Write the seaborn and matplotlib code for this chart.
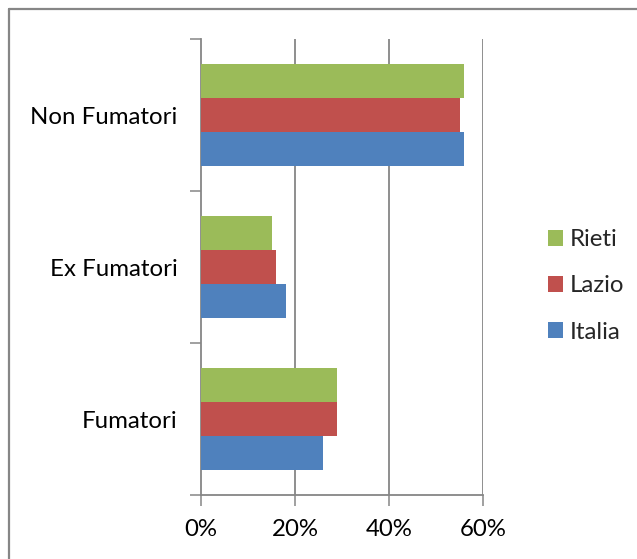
import matplotlib
matplotlib.use("Agg")
import matplotlib.pyplot as plt
from matplotlib.patches import Patch
from matplotlib.lines import Line2D
import seaborn as sns
import pandas as pd

categories = ["Non Fumatori", "Ex Fumatori", "Fumatori"]
series = ["Rieti", "Lazio", "Italia"]
rieti = [56, 15, 29]
lazio = [55, 16, 29]
italia = [56, 18, 26]
xticks = [0, 20, 40, 60]
xticklabels = ["0%", "20%", "40%", "60%"]

colors = {"Rieti": "#9BBB59", "Lazio": "#C0504D", "Italia": "#4F81BD"}

rows = []
for name, vals in zip(series, [rieti, lazio, italia]):
    for c, v in zip(categories, vals):
        rows.append({"cat": c, "serie": name, "val": v})
df = pd.DataFrame(rows)

sns.set_style("white")
plt.rcParams['font.family'] = ['Lato', 'DejaVu Sans']
grey = "#868686"
fs = 17.3

fig = plt.figure(figsize=(6.37, 5.59), dpi=100)
ax = fig.add_axes([201/637, 64/559, (483.3-201)/637, (495-39)/559])

sns.barplot(data=df, y="cat", x="val", hue="serie", order=categories,
            hue_order=series, palette=colors, orient="h", width=0.665,
            gap=0, saturation=1, errorbar=None, ax=ax, legend=False,
            edgecolor="none", zorder=3)

ax.set_xlim(0, 60)
ax.set_ylim(2.5, -0.5)
ax.set_xlabel("")
ax.set_ylabel("")

ax.set_xticks(xticks, labels=xticklabels)
ax.set_yticks([-0.5, 0.5, 1.5, 2.5], labels=[""] * 4)
ax.set_yticks([0, 1, 2], labels=categories, minor=True)
ax.tick_params(axis="y", which="major", length=8, width=1.1, color=grey, direction="out", left=True)
ax.tick_params(axis="y", which="minor", length=0, pad=17, labelsize=fs, labelcolor="black")
ax.tick_params(axis="x", length=8, width=1.1, color=grey, direction="out", bottom=True,
               pad=9, labelsize=fs, labelcolor="black")

for s in ["top", "right"]:
    ax.spines[s].set_visible(False)
for s in ["left", "bottom"]:
    ax.spines[s].set_color(grey)
    ax.spines[s].set_linewidth(1.3)

ax.grid(False)
for xv in xticks[1:]:
    ax.axvline(xv, color=grey, linewidth=1.3, zorder=1)

handles = [Patch(facecolor=colors[s], edgecolor="none", label=s) for s in series]
fig.legend(handles=handles, loc="center left", bbox_to_anchor=(526/637, 1 - 286/559),
           frameon=False, fontsize=fs, handlelength=0.62, handleheight=0.62,
           handletextpad=0.3, labelspacing=1.05)

# chart area border (left and top visible)
fig.add_artist(Line2D([8.8/637, 8.8/637], [0, 1 - 9.3/559], transform=fig.transFigure,
                      color=grey, linewidth=1.6))
fig.add_artist(Line2D([8.8/637, 1], [1 - 9.3/559, 1 - 9.3/559], transform=fig.transFigure,
                      color=grey, linewidth=1.6))

fig.savefig("out.png", dpi=100)
